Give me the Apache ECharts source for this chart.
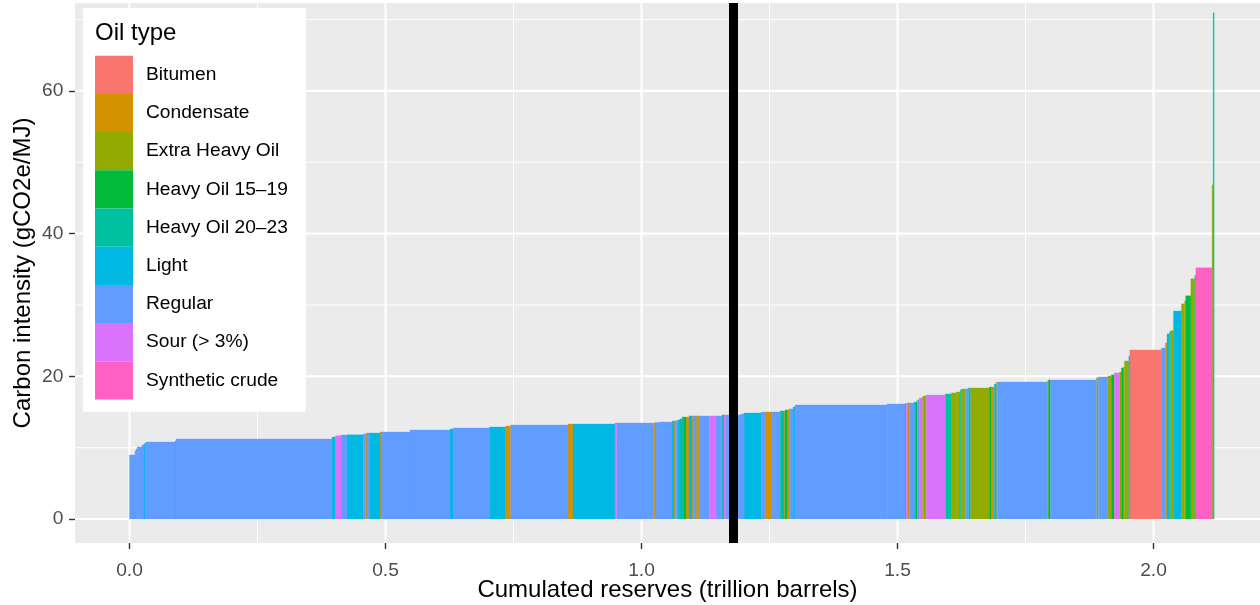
<!DOCTYPE html>
<html><head><meta charset="utf-8">
<script src="https://cdn.jsdelivr.net/npm/echarts@6/dist/echarts.min.js"></script>
<style>html,body{margin:0;padding:0;background:#fff}#c{width:1260px;height:605px}</style>
</head><body><div id="c"></div>
<script>
// ---- data ----
const oilTypes = ['Bitumen','Condensate','Extra Heavy Oil','Heavy Oil 15\u201319','Heavy Oil 20\u201323','Light','Regular','Sour (> 3%)','Synthetic crude'];
const typeCodes = ['B','C','E','H1','H2','L','R','S','Y'];
const typeColors = ['#F8766D','#D39200','#93AA00','#00BA38','#00C19F','#00B9E3','#619CFF','#DB72FB','#FF61C3'];

// fields in merit order: oil type code, reserves (trillion barrels), carbon intensity (gCO2e/MJ)
const segTypes = ['R','R','R','R','R','L','R','R','C','R',
  'L','S','R','L','R','C','R','C','L','C',
  'R','R','L','R','L','C','R','C','L','S',
  'R','C','R','R','L','C','R','L','H2','H2',
  'H1','C','L','C','R','C','R','S','R','H2',
  'S','R','R','R','L','R','C','R','H2','C',
  'H1','C','R','L','R','R','L','S','C','R',
  'L','H1','R','S','E','E','S','H2','E','E',
  'H2','E','R','H2','E','H1','C','L','C','R',
  'E','H1','R','E','R','E','H1','S','E','H1',
  'E','E','L','B','R','C','L','H2','E','L',
  'E','E','H1','E','H2','Y','E','H2'];
const segReserves = [0.0107,0.0020,0.0025,0.0092,0.0039,0.0020,0.0020,0.0566,0.0020,0.3047,
  0.0072,0.0104,0.0117,0.0318,0.0047,0.0025,0.0039,0.0014,0.0201,0.0020,
  0.0566,0.0781,0.0059,0.0709,0.0320,0.0098,0.1119,0.0098,0.0820,0.0033,
  0.0715,0.0033,0.0098,0.0234,0.0039,0.0025,0.0053,0.0039,0.0039,0.0039,
  0.0039,0.0059,0.0059,0.0020,0.0059,0.0059,0.0195,0.0137,0.0117,0.0039,
  0.0039,0.0176,0.0117,0.0059,0.0332,0.0078,0.0137,0.0156,0.0078,0.0020,
  0.0039,0.0039,0.0078,0.0039,0.1797,0.0352,0.0020,0.0020,0.0039,0.0098,
  0.0020,0.0039,0.0039,0.0059,0.0020,0.0059,0.0371,0.0117,0.0098,0.0078,
  0.0020,0.0078,0.0059,0.0039,0.0371,0.0039,0.0059,0.0039,0.0020,0.0977,
  0.0020,0.0039,0.0898,0.0039,0.0186,0.0068,0.0059,0.0098,0.0039,0.0039,
  0.0020,0.0086,0.0020,0.0617,0.0078,0.0031,0.0047,0.0020,0.0059,0.0156,
  0.0063,0.0020,0.0100,0.0078,0.0020,0.0318,0.0020,0.0020];
const segIntensity = [8.98,9.54,9.82,10.10,10.38,10.56,10.66,10.80,10.94,11.22,
  11.50,11.68,11.78,11.80,11.92,12.00,12.06,12.06,12.06,12.20,
  12.20,12.48,12.62,12.76,12.90,13.04,13.18,13.32,13.32,13.46,
  13.46,13.46,13.53,13.60,13.74,13.74,13.80,13.90,14.03,14.30,
  14.30,14.30,14.45,14.45,14.45,14.45,14.45,14.45,14.45,14.59,
  14.59,14.59,14.59,14.73,14.87,15.00,15.00,15.00,15.15,15.15,
  15.29,15.29,15.43,15.71,15.99,16.13,16.20,16.20,16.27,16.27,
  16.40,16.40,16.70,16.97,17.10,17.25,17.39,17.53,17.67,17.81,
  18.10,18.23,18.23,18.37,18.37,18.50,18.50,18.93,19.20,19.20,
  19.35,19.50,19.50,19.78,19.92,20.06,20.20,20.48,20.60,21.18,
  21.30,22.16,22.86,23.70,23.98,24.68,25.95,26.20,26.40,29.17,
  30.15,30.57,31.28,33.66,34.15,35.20,46.84,70.97];

const xTicks = [0, 0.5, 1.0, 1.5, 2.0];
const xMinorTicks = [0.25, 0.75, 1.25, 1.75];
const yTicks = [0, 20, 40, 60];
const yMinorTicks = [10, 30, 50, 70];
const markerX = 1.178;
const xRange = [-0.1064, 2.208];
const yRange = [-3.36, 72.32];

// ---- build ----
const FONT = '"Liberation Sans", Arial, Helvetica, sans-serif';
let cum = 0;
const perType = typeCodes.map(() => []);
for (let i = 0; i < segTypes.length; i++) {
  const k = typeCodes.indexOf(segTypes[i]);
  perType[k].push([cum, cum + segReserves[i], segIntensity[i]]);
  cum += segReserves[i];
}

const gridData = [];
xTicks.forEach(v => gridData.push([v, 0, 1]));
xMinorTicks.forEach(v => gridData.push([v, 0, 0]));
yTicks.forEach(v => gridData.push([v, 1, 1]));
yMinorTicks.forEach(v => gridData.push([v, 1, 0]));

const series = [{
  type: 'custom', name: '_grid', silent: true, z: 1,
  data: gridData,
  encode: {x: 0, y: 1},
  renderItem: function (params, api) {
    const v = api.value(0), dir = api.value(1), major = api.value(2);
    let p0, p1;
    if (dir === 0) { p0 = api.coord([v, yRange[0]]); p1 = api.coord([v, yRange[1]]); }
    else { p0 = api.coord([xRange[0], v]); p1 = api.coord([xRange[1], v]); }
    return {type: 'line', shape: {x1: p0[0], y1: p0[1], x2: p1[0], y2: p1[1]},
      style: {stroke: '#FFFFFF', lineWidth: major ? 2.1 : 1.05}};
  }
}];

typeCodes.forEach((code, k) => {
  const s = {
    type: 'custom', name: oilTypes[k], z: 2,
    itemStyle: {color: typeColors[k]},
    data: perType[k],
    encode: {x: [0, 1], y: 2},
    renderItem: function (params, api) {
      const a = api.coord([api.value(0), api.value(2)]);
      const b = api.coord([api.value(1), 0]);
      return {type: 'rect', shape: {x: a[0], y: a[1], width: b[0] - a[0], height: b[1] - a[1]},
        style: {fill: typeColors[k], stroke: typeColors[k], lineWidth: 0.3}};
    }
  };
  if (code === 'R') {
    s.markLine = {silent: true, symbol: ['none', 'none'], label: {show: false},
      lineStyle: {color: '#000000', width: 9, type: 'solid'},
      emphasis: {disabled: true},
      data: [{xAxis: markerX}]};
  }
  series.push(s);
});

const chart = echarts.init(document.getElementById('c'), null, {renderer: 'canvas'});
chart.setOption({
  animation: false,
  backgroundColor: '#FFFFFF',
  title: {text: 'Oil type', left: 95, top: 21, padding: 0,
    textStyle: {fontSize: 24, fontWeight: 'normal', color: '#000', fontFamily: FONT}},
  legend: {
    data: oilTypes, orient: 'vertical', left: 83, top: 8,
    padding: [47.7, 18, 12.3, 12],
    itemWidth: 38, itemHeight: 38.2, itemGap: 0,
    icon: 'rect', backgroundColor: '#FFFFFF', borderWidth: 0,
    selectedMode: false,
    textStyle: {fontSize: 19.2, color: '#000', fontFamily: FONT, padding: [0, 0, 0, 8]}
  },
  grid: {left: 75, right: 0, top: 3, bottom: 62, show: true, backgroundColor: '#EBEBEB', borderWidth: 0,
    containLabel: false, outerBoundsMode: 'none'},
  xAxis: {
    type: 'value', min: xRange[0], max: xRange[1],
    name: 'Cumulated reserves (trillion barrels)', nameLocation: 'middle', nameGap: 35, nameMoveOverlap: false,
    nameTextStyle: {fontSize: 24, color: '#000', fontFamily: FONT},
    axisLine: {show: false, onZero: false},
    axisTick: {show: true, customValues: xTicks, length: 6, lineStyle: {color: '#333333', width: 1.4}},
    axisLabel: {customValues: xTicks, margin: 18, fontSize: 19.2, color: '#4D4D4D', fontFamily: FONT,
      formatter: v => v.toFixed(1)},
    splitLine: {show: false}
  },
  yAxis: {
    type: 'value', min: yRange[0], max: yRange[1],
    name: 'Carbon intensity (gCO2e/MJ)', nameLocation: 'middle', nameGap: 40, nameMoveOverlap: false,
    nameTextStyle: {fontSize: 24, color: '#000', fontFamily: FONT},
    axisLine: {show: false, onZero: false},
    axisTick: {show: true, customValues: yTicks, length: 6, lineStyle: {color: '#333333', width: 1.4}},
    axisLabel: {customValues: yTicks, margin: 11.6, fontSize: 19.2, color: '#4D4D4D', fontFamily: FONT,
      formatter: v => String(Math.round(v))},
    splitLine: {show: false}
  },
  series: series
});
</script></body></html>
